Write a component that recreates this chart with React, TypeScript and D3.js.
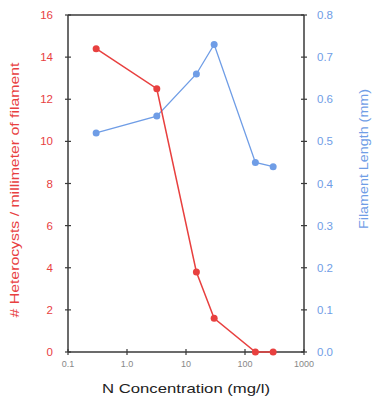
import React, { useEffect, useRef } from 'react';
import * as d3 from 'd3';

const concentrations = [0.3, 3.2, 15, 30, 150, 300];
const heterocysts = [14.4, 12.5, 3.8, 1.6, 0, 0];
const filamentLength = [0.52, 0.56, 0.66, 0.73, 0.45, 0.44];
const xTicks = [0.1, 1, 10, 100, 1000];
const xTickLabels = ['0.1', '1.0', '10', '100', '1000'];
const leftTicks = [0, 2, 4, 6, 8, 10, 12, 14, 16];
const rightTicks = [0, 0.1, 0.2, 0.3, 0.4, 0.5, 0.6, 0.7, 0.8];

const RED = '#e8403f';
const BLUE = '#6f9de6';
const AXIS = '#3a3a3a';

const App = () => {
  const svgRef = useRef<SVGSVGElement>(null);
  const width = 373;
  const height = 400;
  const margin = { top: 15, right: 69, bottom: 48, left: 68 };

  useEffect(() => {
    const svg = d3.select(svgRef.current);
    svg.selectAll('*').remove();

    const innerW = width - margin.left - margin.right;
    const innerH = height - margin.top - margin.bottom;

    const x = d3.scaleLog().domain([0.1, 1000]).range([0, innerW]);
    const yL = d3.scaleLinear().domain([0, 16]).range([innerH, 0]);
    const yR = d3.scaleLinear().domain([0, 0.8]).range([innerH, 0]);

    const g = svg.append('g').attr('transform', `translate(${margin.left},${margin.top})`);
    const font = 'Arial, Liberation Sans, sans-serif';

    // frame: top line
    g.append('line').attr('x1', 0).attr('x2', innerW).attr('y1', 0).attr('y2', 0)
      .attr('stroke', AXIS).attr('stroke-width', 1.5);

    // left axis
    const left = g.append('g');
    left.append('line').attr('x1', 0).attr('x2', 0).attr('y1', 0).attr('y2', innerH)
      .attr('stroke', AXIS).attr('stroke-width', 1.5);
    leftTicks.forEach(t => {
      left.append('line').attr('x1', -3).attr('x2', 3).attr('y1', yL(t)).attr('y2', yL(t))
        .attr('stroke', AXIS).attr('stroke-width', 1.2);
      left.append('text').attr('x', -15).attr('y', yL(t)).attr('dy', '0.35em')
        .attr('text-anchor', 'end').attr('fill', RED).attr('font-size', 11.5)
        .attr('font-family', font).text(t);
    });

    // right axis
    const right = g.append('g').attr('transform', `translate(${innerW},0)`);
    right.append('line').attr('x1', 0).attr('x2', 0).attr('y1', 0).attr('y2', innerH)
      .attr('stroke', AXIS).attr('stroke-width', 1.5);
    rightTicks.forEach(t => {
      right.append('line').attr('x1', -3).attr('x2', 3).attr('y1', yR(t)).attr('y2', yR(t))
        .attr('stroke', AXIS).attr('stroke-width', 1.2);
      right.append('text').attr('x', 13).attr('y', yR(t)).attr('dy', '0.35em')
        .attr('text-anchor', 'start').attr('fill', BLUE).attr('font-size', 11.5)
        .attr('font-family', font).text(d3.format('.1f')(t));
    });

    // bottom axis
    const bottom = g.append('g').attr('transform', `translate(0,${innerH})`);
    bottom.append('line').attr('x1', 0).attr('x2', innerW).attr('y1', 0).attr('y2', 0)
      .attr('stroke', AXIS).attr('stroke-width', 1.5);
    xTicks.forEach((t, i) => {
      bottom.append('line').attr('x1', x(t)).attr('x2', x(t)).attr('y1', -3).attr('y2', 3)
        .attr('stroke', AXIS).attr('stroke-width', 1.2);
      bottom.append('text').attr('x', x(t)).attr('y', 15)
        .attr('text-anchor', 'middle').attr('fill', '#888').attr('font-size', 9)
        .attr('font-family', font).text(xTickLabels[i]);
    });

    // series
    const drawSeries = (vals: number[], y: d3.ScaleLinear<number, number>, color: string, sw: number) => {
      const line = d3.line<number>().x((_, i) => x(concentrations[i])).y(d => y(d));
      g.append('path').datum(vals).attr('d', line).attr('fill', 'none')
        .attr('stroke', color).attr('stroke-width', sw);
      g.selectAll(null).data(vals).enter().append('circle')
        .attr('cx', (_, i) => x(concentrations[i])).attr('cy', d => y(d))
        .attr('r', 3.5).attr('fill', color);
    };
    drawSeries(filamentLength, yR, BLUE, 1.3);
    drawSeries(heterocysts, yL, RED, 1.5);

    // titles
    svg.append('text')
      .attr('transform', `translate(${margin.left + innerW / 2},${height - 7})`)
      .attr('text-anchor', 'middle').attr('fill', '#222').attr('font-size', 13.5)
      .attr('textLength', 168).attr('lengthAdjust', 'spacingAndGlyphs')
      .attr('font-family', font).text('N Concentration (mg/l)');

    svg.append('text')
      .attr('transform', `translate(19,190) rotate(-90)`)
      .attr('text-anchor', 'middle').attr('fill', RED).attr('font-size', 12.5)
      .attr('textLength', 255).attr('lengthAdjust', 'spacingAndGlyphs')
      .attr('font-family', font).text('# Heterocysts / millimeter of filament');

    svg.append('text')
      .attr('transform', `translate(368,159) rotate(-90)`)
      .attr('text-anchor', 'middle').attr('fill', BLUE).attr('font-size', 12.5)
      .attr('textLength', 140).attr('lengthAdjust', 'spacingAndGlyphs')
      .attr('font-family', font).text('Filament Length (mm)');
  }, []);

  return (
    <svg ref={svgRef} width={width} height={height}
      style={{ position: 'absolute', left: 0, top: 0, background: '#fff' }} />
  );
};

export default App;
